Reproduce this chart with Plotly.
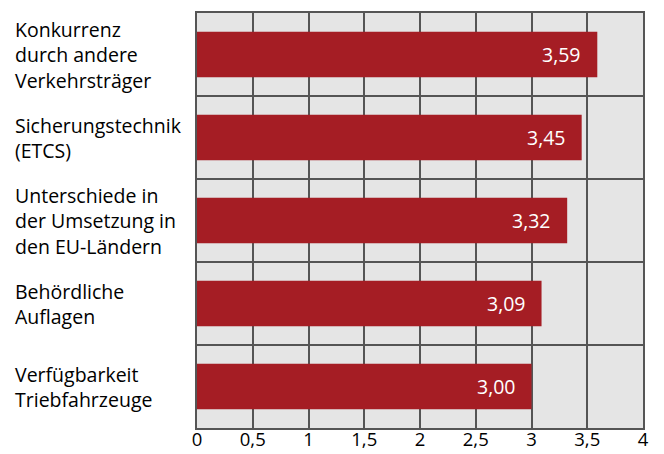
import plotly.graph_objects as go

# Daten
kategorien = [
    "Konkurrenz<br>durch andere<br>Verkehrsträger",
    "Sicherungstechnik<br>(ETCS)",
    "Unterschiede in<br>der Umsetzung in<br>den EU-Ländern",
    "Behördliche<br>Auflagen",
    "Verfügbarkeit<br>Triebfahrzeuge",
]
werte = [3.59, 3.45, 3.32, 3.09, 3.00]
x_ticks = [0, 0.5, 1, 1.5, 2, 2.5, 3, 3.5, 4]
x_ticktext = ["0", "0,5", "1", "1,5", "2", "2,5", "3", "3,5", "4"]

FONT = "Open Sans"
ROT = "#a51d24"
GRID = "#555555"

fig = go.Figure()
fig.add_trace(go.Bar(
    x=werte, y=kategorien, orientation="h",
    marker=dict(color=ROT, line=dict(width=0)),
    hoverinfo="x+y",
))

# Werte-Beschriftung in den Balken
for k, w in zip(kategorien, werte):
    fig.add_annotation(
        x=w, y=k, xref="x", yref="y",
        text=f"{w:.2f}".replace(".", ","),
        showarrow=False, xanchor="right", xshift=-14,
        font=dict(family=FONT, size=19.5, color="white"),
    )
    # Kategorie-Beschriftung linksbündig
    fig.add_annotation(
        x=0, y=k, xref="paper", yref="y",
        text=k, align="left", showarrow=False,
        xanchor="left", xshift=-184,
        font=dict(family=FONT, size=19.5, color="black"),
    )

# Seite hat 8px Body-Rand -> Figur entsprechend kleiner
fig.update_layout(
    width=656, height=446,
    margin=dict(l=189, r=21, t=5, b=26),
    paper_bgcolor="white",
    plot_bgcolor="#e5e5e5",
    separators=",.",
    bargap=0.45,
    showlegend=False,
    font=dict(family=FONT, size=19.5, color="black"),
    xaxis=dict(
        range=[0, 4], tickvals=x_ticks, ticktext=x_ticktext,
        tickfont=dict(size=18.5),
        ticks="", automargin=False, ticklabelstandoff=-6,
        showgrid=True, gridcolor=GRID, gridwidth=2,
        showline=True, linecolor=GRID, linewidth=2, mirror=True,
        zeroline=False, fixedrange=True,
    ),
    yaxis=dict(
        autorange="reversed", type="category", automargin=False,
        tickson="boundaries", showticklabels=False, ticks="",
        showgrid=True, gridcolor=GRID, gridwidth=2,
        showline=True, linecolor=GRID, linewidth=2, mirror=True,
        fixedrange=True,
    ),
)

fig.write_html("out.html")
